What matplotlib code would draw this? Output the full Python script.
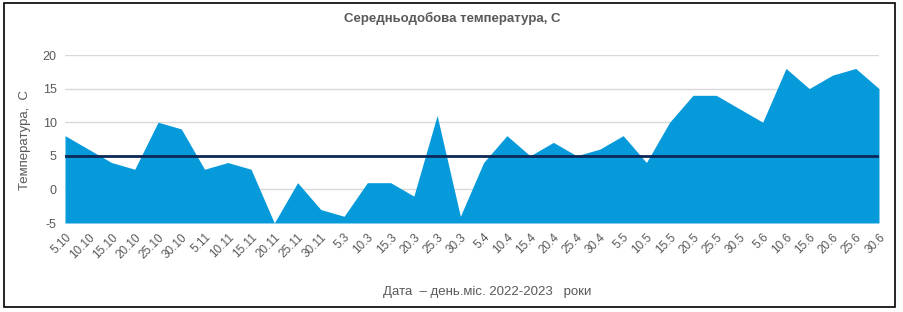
import matplotlib.pyplot as plt
import numpy as np

plt.rcParams['font.family'] = ['Liberation Sans', 'DejaVu Sans']

# dates (day.month) 2022-2023
dates = ["5.10", "10.10", "15.10", "20.10", "25.10", "30.10", "5.11", "10.11", "15.11",
         "20.11", "25.11", "30.11", "5.3", "10.3", "15.3", "20.3", "25.3", "30.3",
         "5.4", "10.4", "15.4", "20.4", "25.4", "30.4", "5.5", "10.5", "15.5",
         "20.5", "25.5", "30.5", "5.6", "10.6", "15.6", "20.6", "25.6", "30.6"]
temps = [8, 6, 4, 3, 10, 9, 3, 4, 3,
         -5, 1, -3, -4, 1, 1, -1, 11, -4,
         4, 8, 5, 7, 5, 6, 8, 4, 10,
         14, 14, 12, 10, 18, 15, 17, 18, 15]
ref_level = 5
yticks = [-5, 0, 5, 10, 15, 20]

fig = plt.figure(figsize=(9.04, 3.12), dpi=100)
ax = fig.add_axes([65/904, 1-223/312, (879-65)/904, (223-55)/312])

x = np.arange(len(dates))
ax.fill_between(x, temps, -5, color='#069ADB', linewidth=0, zorder=2)
ax.axhline(ref_level, color='#0C2856', linewidth=2, zorder=3)

ax.set_xlim(0, len(dates)-1)
ax.set_ylim(-5, 20)
ax.set_yticks(yticks)
ax.set_yticklabels([str(v) for v in yticks], color='#595959', fontsize=9)
ax.set_xticks(x)
ax.set_xticklabels(dates, rotation=45, ha='right', rotation_mode='anchor',
                   color='#595959', fontsize=8.5)
ax.tick_params(length=0, pad=6)
ax.grid(axis='y', color='#d9d9d9', linewidth=1, zorder=1)
ax.set_axisbelow(True)
for s in ax.spines.values():
    s.set_visible(False)

fig.text(25/904, 1-140/312, "Температура,  С", rotation=90, ha='center', va='center',
         color='#595959', fontsize=9.5)
fig.text(487/904, 1-292/312, "Дата  – день.міс. 2022-2023   роки", ha='center', va='center',
         color='#595959', fontsize=9.5)
fig.text(452/904, 1-18/312, "Середньодобова температура, С", ha='center', va='center',
         color='#595959', fontsize=9.5, fontweight='bold')

# border round the chart
fig.patches.append(plt.Rectangle((4/904, 1-307/312), 891/904, 304/312, transform=fig.transFigure,
                                 fill=False, edgecolor='black', linewidth=1.2))

fig.savefig('out.png', dpi=100)
